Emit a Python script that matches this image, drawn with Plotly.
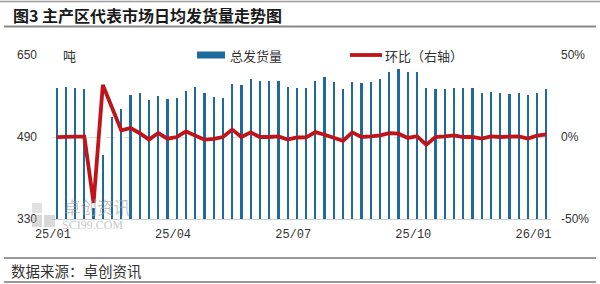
import plotly.graph_objects as go

# ---- data ----
shipments = [585, 588, 586, 583, 352, 455, 530, 544, 572, 575,
             562, 570, 564, 566, 579, 588, 576, 569, 567, 593,
             592, 603, 600, 600, 600, 588, 586, 586, 600, 607,
             597, 583, 597, 595, 598, 603, 616, 622, 616, 617,
             586, 583, 583, 586, 585, 585, 575, 577, 576, 574,
             576, 571, 576, 584]
mom_pct = [-0.1, 0.3, 0.2, 0.2, -40.2, 31.7, 17.7, 4.0, 5.5, 2.3,
           -1.6, 2.4, -1.0, 0.0, 3.4, 1.0, -1.6, -1.2, 0.0, 4.5,
           0.0, 2.8, 0.0, 0.0, 0.4, -1.6, -0.3, -0.2, 3.0, 1.4,
           -0.6, -2.3, 2.8, 0.0, 0.4, 1.0, 2.4, 2.0, -0.6, 0.5,
           -4.7, 0.0, 0.4, 1.0, 0.0, 0.0, -1.0, 0.4, 0.0, 0.0,
           0.4, -0.9, 0.8, 1.6]
week_index = list(range(len(shipments)))
tick_positions = [0, 13, 26, 39, 52]
tick_labels = ["25/01", "25/04", "25/07", "25/10", "26/01"]
left_ticks = [330, 490, 650]
right_ticks = [-50, 0, 50]
right_tick_labels = ["-50%", "0%", "50%"]

title_text = "图3 主产区代表市场日均发货量走势图"
source_text = "数据来源：卓创资讯"
bar_name = "总发货量"
line_name = "环比（右轴）"

BAR_COLOR = "#1f6a9c"
LINE_COLOR = "#c0141b"
CJK = "Noto Sans CJK SC"
WM = "rgba(160,160,160,0.6)"

W, H = 600, 284
ML, MR, MT, MB = 52, 49, 55, 65

fig = go.Figure()
fig.add_trace(go.Bar(x=week_index, y=shipments, name=bar_name,
                     marker=dict(color=BAR_COLOR, line=dict(width=0)),
                     width=0.24, yaxis="y", showlegend=False))
fig.add_trace(go.Scatter(x=week_index, y=mom_pct, name=line_name, mode="lines",
                         line=dict(color=LINE_COLOR, width=3.8),
                         yaxis="y2", showlegend=False))

def px2x(px):
    return (px - ML) / (W - ML - MR)

def py2y(py):
    return 1 - (py - MT) / (H - MT - MB)

shapes = [
    # top rule and title underline
    dict(type="line", xref="paper", yref="paper", x0=px2x(0), x1=px2x(600),
         y0=py2y(1.5), y1=py2y(1.5), line=dict(color="#9a9a9a", width=1.5)),
    dict(type="line", xref="paper", yref="paper", x0=px2x(4), x1=px2x(596),
         y0=py2y(26.5), y1=py2y(26.5), line=dict(color="#8a8a8a", width=2)),
    # footer rules
    dict(type="line", xref="paper", yref="paper", x0=px2x(4), x1=px2x(596),
         y0=py2y(258), y1=py2y(258), line=dict(color="#333333", width=1)),
    dict(type="line", xref="paper", yref="paper", x0=px2x(4), x1=px2x(596),
         y0=py2y(282), y1=py2y(282), line=dict(color="#333333", width=1)),
    # legend backgrounds + symbols
    dict(type="rect", xref="paper", yref="paper", x0=px2x(192), x1=px2x(286),
         y0=py2y(47), y1=py2y(63), fillcolor="white", line=dict(width=0), layer="below"),
    dict(type="rect", xref="paper", yref="paper", x0=px2x(345), x1=px2x(460),
         y0=py2y(47), y1=py2y(63), fillcolor="white", line=dict(width=0), layer="below"),
    dict(type="rect", xref="paper", yref="paper", x0=px2x(197), x1=px2x(225),
         y0=py2y(51.5), y1=py2y(58.5), fillcolor=BAR_COLOR, line=dict(width=0)),
    dict(type="line", xref="paper", yref="paper", x0=px2x(350), x1=px2x(382),
         y0=py2y(55), y1=py2y(55), line=dict(color=LINE_COLOR, width=3.8)),
    # watermark logo blocks
    dict(type="rect", xref="paper", yref="paper", x0=px2x(32), x1=px2x(42),
         y0=py2y(215), y1=py2y(227), fillcolor="rgba(170,170,170,0.45)", line=dict(width=0)),
    dict(type="rect", xref="paper", yref="paper", x0=px2x(44), x1=px2x(55),
         y0=py2y(215), y1=py2y(227), fillcolor="rgba(170,170,170,0.45)", line=dict(width=0)),
    dict(type="rect", xref="paper", yref="paper", x0=px2x(32), x1=px2x(42),
         y0=py2y(203), y1=py2y(213), fillcolor="rgba(170,170,170,0.35)", line=dict(width=0)),
]

annotations = [
    dict(text=f"<b>{title_text}</b>", xref="paper", yref="paper",
         x=px2x(11), y=py2y(15), xanchor="left", yanchor="middle", showarrow=False,
         font=dict(family=CJK, size=16, color="#1a1a1a")),
    dict(text=source_text, xref="paper", yref="paper",
         x=px2x(9), y=py2y(270.5), xanchor="left", yanchor="middle", showarrow=False,
         font=dict(family=CJK, size=14.5, color="#333333")),
    dict(text="吨", xref="paper", yref="paper",
         x=px2x(61), y=py2y(55), xanchor="left", yanchor="middle", showarrow=False,
         font=dict(family=CJK, size=13, color="#333333")),
    dict(text=bar_name, xref="paper", yref="paper",
         x=px2x(228), y=py2y(55), xanchor="left", yanchor="middle", showarrow=False,
         font=dict(family=CJK, size=13, color="#333333")),
    dict(text=line_name, xref="paper", yref="paper",
         x=px2x(383), y=py2y(55), xanchor="left", yanchor="middle", showarrow=False,
         font=dict(family=CJK, size=13, color="#333333")),
    # watermark
    dict(text="卓创资讯", xref="paper", yref="paper",
         x=px2x(62), y=py2y(206.5), xanchor="left", yanchor="middle", showarrow=False,
         font=dict(family=CJK, size=16.5, color=WM)),
    dict(text="SCI99.COM", xref="paper", yref="paper",
         x=px2x(60), y=py2y(224.5), xanchor="left", yanchor="middle", showarrow=False,
         font=dict(family="Liberation Serif", size=12, color=WM)),
]

fig.update_layout(
    width=W, height=H,
    margin=dict(l=ML, r=MR, t=MT, b=MB, pad=0),
    paper_bgcolor="white", plot_bgcolor="white",
    showlegend=False,
    bargap=0,
    shapes=shapes, annotations=annotations,
    xaxis=dict(range=[-0.5, len(shipments) - 0.5], tickmode="array",
               tickvals=[p - 0.4 for p in tick_positions], ticktext=tick_labels,
               showgrid=False, zeroline=False, showline=True, linecolor="#d0d0d0",
               linewidth=1, ticks="", ticklabelstandoff=4,
               tickfont=dict(family="Liberation Mono", size=12, color="#333333")),
    yaxis=dict(range=[330, 650], tickvals=left_ticks, showgrid=True,
               gridcolor="#d9d9d9", griddash="dash", gridwidth=1, zeroline=False,
               showline=False, ticks="", ticklabelstandoff=14,
               tickfont=dict(family="Liberation Sans", size=12, color="#333333")),
    yaxis2=dict(range=[-50, 50], tickvals=right_ticks, ticktext=right_tick_labels,
                overlaying="y", side="right", showgrid=False, zeroline=False,
                showline=False, ticks="", ticklabelstandoff=9,
                tickfont=dict(family="Liberation Sans", size=12, color="#333333")),
)

fig.write_html("out.html")
